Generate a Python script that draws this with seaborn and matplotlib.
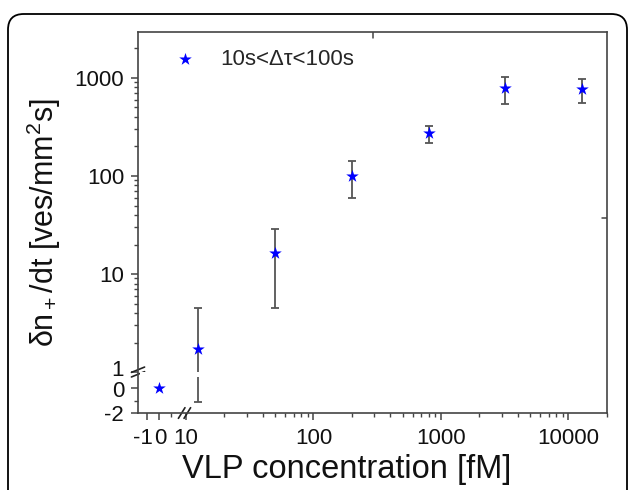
import matplotlib
matplotlib.use("Agg")
import matplotlib.pyplot as plt
from matplotlib.patches import FancyBboxPatch
from matplotlib.transforms import ScaledTranslation
import seaborn as sns
import pandas as pd
import numpy as np

# data
conc = [0, 12.5, 50, 200, 800, 3200, 12800]            # fM
rate = [0.0, 1.7, 16.5, 101, 272, 790, 770]             # ves/mm^2 s
rate_err = [0.0, 2.85, 12, 41, 55, 245, 215]
legend_label = "10s<\u0394\u03c4<100s"

ytick_major = [-2, 0, 1, 10, 100, 1000]
ytick_labels = ["-2", "0", "1", "10", "100", "1000"]
xtick_major = [-1, 0, 10, 100, 1000, 10000]
xtick_labels = ["-1", "0", "10", "100", "1000", "10000"]

sns.set_style("ticks")
plt.rcParams["font.family"] = ["Liberation Sans", "DejaVu Sans"]
plt.rcParams["mathtext.fontset"] = "custom"
plt.rcParams["mathtext.rm"] = "Liberation Sans"
plt.rcParams["mathtext.it"] = "Liberation Sans"


# broken axes: linear piece below the break, log piece above it
def fwd_x(x):
    x = np.asarray(x, float)
    lin = 12.0 * x
    mid = 24.0 + (x - 2.0) * 3.0 / 8.0
    lg = 27.0 + 127.5 * np.log10(np.maximum(x, 10.0) / 10.0)
    return np.where(x <= 2, lin, np.where(x < 10, mid, lg))


def inv_x(u):
    u = np.asarray(u, float)
    lin = u / 12.0
    mid = 2.0 + (u - 24.0) * 8.0 / 3.0
    lg = 10.0 * 10 ** ((np.maximum(u, 27.0) - 27.0) / 127.5)
    return np.where(u <= 24, lin, np.where(u < 27, mid, lg))


def fwd_y(y):
    y = np.asarray(y, float)
    lin = 12.5 * y
    lg = 16.0 + 98.0 * np.log10(np.maximum(y, 1.0))
    return np.where(y < 1, lin, lg)


def inv_y(v):
    v = np.asarray(v, float)
    lin = v / 12.5
    lg = 10 ** ((np.maximum(v, 16.0) - 16.0) / 98.0)
    return np.where(v < 12.5, lin, np.where(v < 16, 1.0, lg))


df = pd.DataFrame({"conc": conc, "rate": rate, "err": rate_err})

fig = plt.figure(figsize=(6.29, 4.9), dpi=100)
ax = fig.add_axes([0.2194, 0.1571, 0.7456, 0.7776])
ax.set_xscale("function", functions=(fwd_x, inv_x))
ax.set_yscale("function", functions=(fwd_y, inv_y))
ax.set_xlim(-1.75, 20040)
ax.set_ylim(-2, 2946)

edf = df[df["err"] > 0]
ax.errorbar(edf["conc"], edf["rate"], yerr=edf["err"], fmt="none",
            ecolor="#555555", elinewidth=1.3, capsize=3.2, capthick=1.3, zorder=2)
# gap of the error bar at the y break
ax.axhspan(0.85, 1.01, xmin=0.004, xmax=0.996, color="white", zorder=2.2, lw=0)

sns.scatterplot(data=df, x="conc", y="rate", marker="*", color="#0000ff", s=90,
                linewidth=0, ax=ax, label=legend_label, zorder=3)

# ticks
minor_y = [-1] + [m * 10 ** k for k in range(0, 4) for m in range(2, 10) if m * 10 ** k < 2946]
minor_x = [1] + [m * 10 ** k for k in range(1, 5) for m in range(2, 10) if m * 10 ** k < 20040]
ax.set_yticks(ytick_major)
ax.set_yticklabels(ytick_labels)
ax.set_yticks(minor_y, minor=True)
ax.set_xticks(xtick_major)
ax.set_xticklabels(xtick_labels)
ax.set_xticks(minor_x, minor=True)
ax.tick_params(which="major", direction="out", length=5, width=1.1, color="#444444",
               labelsize=16, labelcolor="#111111", pad=4)
ax.tick_params(which="minor", direction="out", length=3, width=1.0, color="#444444")
ax.tick_params(axis="y", which="major", pad=5)
ax.tick_params(axis="x", which="major", pad=6)
for s in ax.spines.values():
    s.set_color("#444444")
    s.set_linewidth(1.2)

# nudge crowded labels next to the breaks apart
xl = ax.get_xticklabels()
xl[0].set_transform(xl[0].get_transform() + ScaledTranslation(-3 / 72, 0, fig.dpi_scale_trans))
xl[1].set_transform(xl[1].get_transform() + ScaledTranslation(1 / 72, 0, fig.dpi_scale_trans))
yl = ax.get_yticklabels()
yl[2].set_transform(yl[2].get_transform() + ScaledTranslation(0, 3 / 72, fig.dpi_scale_trans))
yl[1].set_transform(yl[1].get_transform() + ScaledTranslation(0, -1 / 72, fig.dpi_scale_trans))

ax.set_xlabel("VLP concentration [fM]", fontsize=23.5, color="#111111")
ax.xaxis.set_label_coords(0.446, -0.108)
ax.set_ylabel(r"$\delta$n$_+$/dt [ves/mm$^2$s]", fontsize=22, color="#111111", labelpad=8)

leg = ax.legend(loc="upper left", bbox_to_anchor=(0.01, 1.008), frameon=False,
                fontsize=16, handletextpad=0.6, borderaxespad=0.5, markerscale=1.0)

# break marks
tr = ax.transAxes.inverted()
ybr = tr.transform(ax.transData.transform([[1, 1]]))[0][1]
xbr = tr.transform(ax.transData.transform([[6, 1]]))[0][0]
dx, dy = 0.014, 0.014
for off in (-0.006, 0.006):
    ax.plot([-dx, dx], [ybr + off - dy * 0.5, ybr + off + dy * 0.5], transform=ax.transAxes,
            color="#222222", lw=1.2, clip_on=False)
    ax.plot([xbr + off - dx * 0.5, xbr + off + dx * 0.5], [-dy, dy], transform=ax.transAxes,
            color="#222222", lw=1.2, clip_on=False)

# stray single ticks on the top and right spines
ax.plot([293, 293], [1.0, 0.985], transform=ax.get_xaxis_transform(), color="#444444", lw=1.1)
ax.plot([1.0, 0.99], [37, 37], transform=ax.get_yaxis_transform(), color="#444444", lw=1.1)

# rounded frame around the figure
frame = FancyBboxPatch((8 / 629, -0.1), 619 / 629, 1.1 - 14 / 490,
                       boxstyle="round,pad=0,rounding_size=0.025", transform=fig.transFigure,
                       fill=False, edgecolor="black", lw=1.3, mutation_aspect=629 / 490)
fig.patches.append(frame)

fig.savefig("out.png", dpi=100)
